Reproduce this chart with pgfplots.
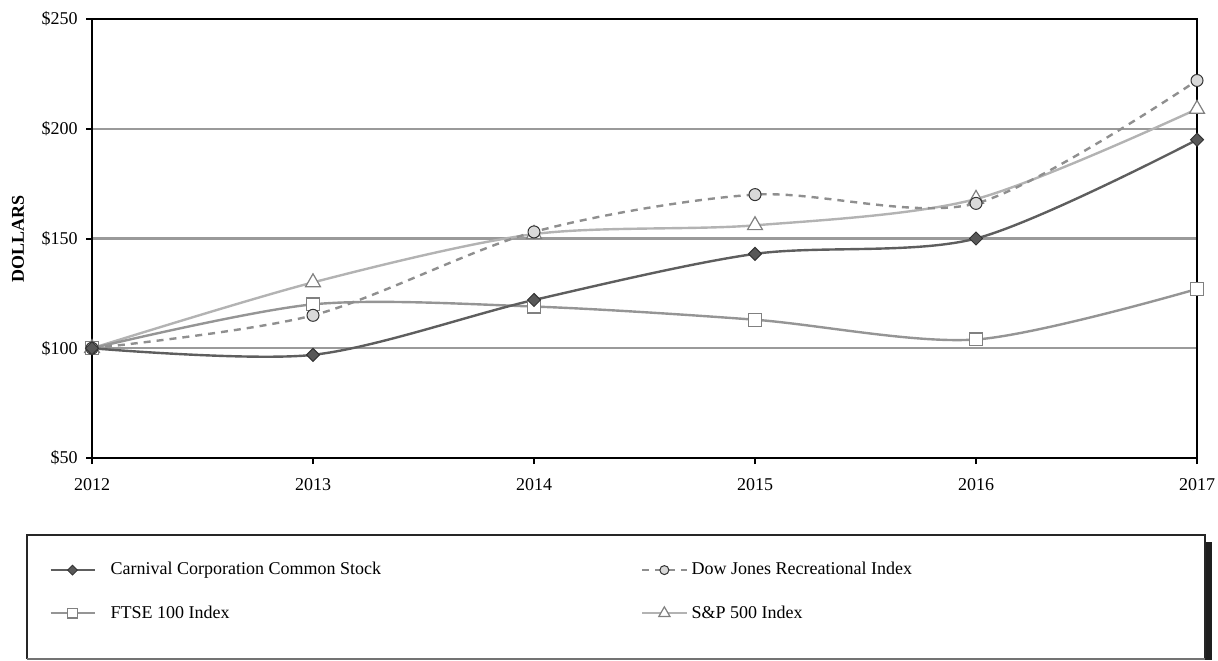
\documentclass[border=0pt]{standalone}
\usepackage{fontspec}
\setmainfont{Liberation Serif}
\usepackage{pgfplots}
\pgfplotsset{compat=1.18}
\definecolor{carn}{HTML}{5E5E5E}
\definecolor{carnmark}{HTML}{585858}
\definecolor{dow}{HTML}{8F8F8F}
\definecolor{dowfill}{HTML}{D9D9D9}
\definecolor{ftse}{HTML}{959595}
\definecolor{sp}{HTML}{B3B3B3}
\definecolor{gridc}{HTML}{9A9A9A}
\begin{document}
\fontsize{9}{11}\selectfont
\begin{tikzpicture}
\useasboundingbox (0,0) rectangle (609pt,330pt);
% legend frame (pixel coords: x*0.5pt, (660-y)*0.5pt)
\fill[black!88] (602.5pt,0pt) rectangle (606pt,59pt);
\draw[black!85, line width=1.1pt] (13.5pt,0.5pt) -- (13.5pt,62.5pt) -- (602.5pt,62.5pt) -- (602.5pt,0.5pt);
\draw[black!55, line width=0.6pt] (13.5pt,0.5pt) -- (602.5pt,0.5pt);
\begin{axis}[
  at={(46pt,101pt)}, anchor=south west,
  scale only axis, width=552.5pt, height=219.5pt,
  xmin=2012, xmax=2017, ymin=50, ymax=250,
  xtick={2012,2013,2014,2015,2016,2017},
  xticklabels={2012,2013,2014,2015,2016,2017},
  ytick={50,100,150,200,250},
  yticklabels={\$50,\$100,\$150,\$200,\$250},
  ymajorgrids, grid style={gridc, line width=1.2pt},
  axis line style={black, line width=1.1pt},
  tick align=outside, xtick pos=bottom, ytick pos=left,
  major tick length=3pt,
  tick style={black, line width=1pt},
  xticklabel style={yshift=-4pt},
  yticklabel style={xshift=-1pt},
  ylabel={\textbf{DOLLARS}},
  ylabel style={at={(axis description cs:-0.067,0.5)}, anchor=center},
  clip=false,
  reverse legend,
  legend columns=2,
  legend style={at={(axis description cs:-0.039,-0.228)}, anchor=north west,
    draw=none, fill=none, inner sep=0pt, font=\fontsize{9}{11}\selectfont,
    row sep=10pt,
    /tikz/column 1/.style={column sep=5.5pt},
    /tikz/column 2/.style={column sep=128pt}},
  legend cell align=left,
  legend image code/.code={\draw[mark repeat=2,mark phase=2,every mark/.append style={scale=0.75}] plot coordinates {(0pt,0pt)(11pt,0pt)(22pt,0pt)};},
]
\addplot[sp, line width=1.2pt, smooth, mark=triangle*, mark size=4.3pt,
  mark options={solid, fill=white, draw=black!50, line width=0.6pt}]
  coordinates {(2012,100)(2013,130)(2014,152)(2015,156)(2016,168)(2017,209)};
\addlegendentry{S\&P 500 Index}
\addplot[ftse, line width=1.2pt, smooth, mark=square*, mark size=3.2pt,
  mark options={solid, fill=white, draw=black!50, line width=0.6pt}]
  coordinates {(2012,100)(2013,120)(2014,119)(2015,113)(2016,104)(2017,127)};
\addlegendentry{FTSE 100 Index}
\addplot[dow, line width=1.2pt, smooth, dash pattern=on 3.5pt off 3pt, mark=*, mark size=3pt,
  mark options={solid, fill=dowfill, draw=black!80, line width=0.5pt}]
  coordinates {(2012,100)(2013,115)(2014,153)(2015,170)(2016,166)(2017,222)};
\addlegendentry{Dow Jones Recreational Index}
\addplot[carn, line width=1.2pt, smooth, mark=square*, mark size=2.3pt,
  mark options={solid, rotate=45, fill=carnmark, draw=black!80, line width=0.5pt}]
  coordinates {(2012,100)(2013,97)(2014,122)(2015,143)(2016,150)(2017,195)};
\addlegendentry{Carnival Corporation Common Stock}
\end{axis}
\end{tikzpicture}
\end{document}
